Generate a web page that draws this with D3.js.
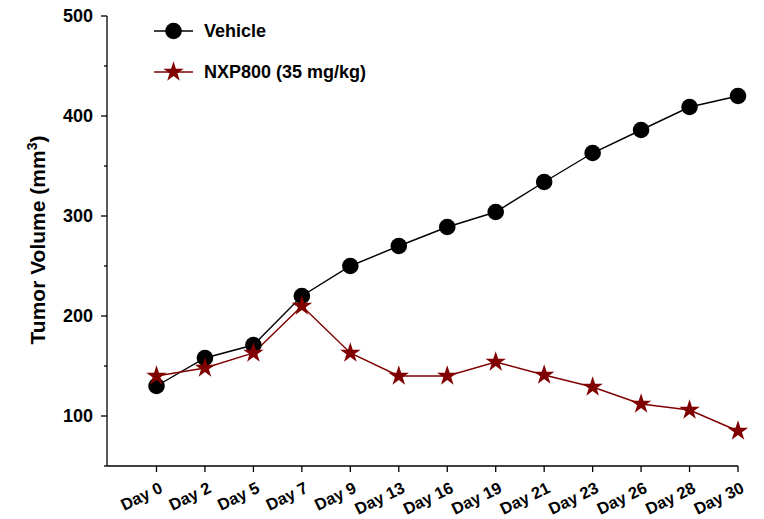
<!DOCTYPE html>
<html><head><meta charset="utf-8">
<script src="https://cdn.jsdelivr.net/npm/d3@7"></script>
<style>
body{margin:0;background:#fff;}
text{font-family:Arial,"Liberation Sans",sans-serif;font-weight:bold;fill:#000;}
</style></head>
<body><svg id="c" width="764" height="519"></svg>
<script>
const categories = ["Day 0","Day 2","Day 5","Day 7","Day 9","Day 13","Day 16","Day 19","Day 21","Day 23","Day 26","Day 28","Day 30"];
const vehicle = [130,158,171,220,250,270,289,304,334,363,386,409,420];
const nxp800 = [140,148,163,210,163,140,140,154,141,129,112,106,85];
const seriesNames = ["Vehicle","NXP800 (35 mg/kg)"];
const yTicks = [100,200,300,400,500];
const yMinor = [150,250,350,450];

const svg = d3.select("#c");
const axisX0 = 107, axisY0 = 466;
const x = d3.scalePoint().domain(categories).range([156.5, 738]);
const y = d3.scaleLinear().domain([50,500]).range([466,16]);

// Y axis
const gy = svg.append("g").attr("transform",`translate(${axisX0},0)`);
gy.append("line").attr("x1",0).attr("x2",0).attr("y1",y(500)).attr("y2",y(50)).attr("stroke","#000").attr("stroke-width",1.3);
gy.selectAll(".maj").data(yTicks).join("line").attr("x1",-6).attr("x2",0).attr("y1",d=>y(d)).attr("y2",d=>y(d)).attr("stroke","#000").attr("stroke-width",1.3);
gy.selectAll(".min").data(yMinor.concat([50])).join("line").attr("x1",-3).attr("x2",0).attr("y1",d=>y(d)).attr("y2",d=>y(d)).attr("stroke","#000").attr("stroke-width",1.3);
gy.selectAll(".lab").data(yTicks).join("text").attr("x",-14).attr("y",d=>y(d)).attr("dy","0.36em").attr("text-anchor","end").style("font-size","18px").text(d=>d);

// X axis
const gx = svg.append("g").attr("transform",`translate(0,${axisY0})`);
gx.append("line").attr("x1",axisX0).attr("x2",x("Day 30")).attr("y1",0).attr("y2",0).attr("stroke","#000").attr("stroke-width",1.3);
gx.selectAll(".t").data(categories).join("line").attr("x1",d=>x(d)).attr("x2",d=>x(d)).attr("y1",0).attr("y2",6).attr("stroke","#000").attr("stroke-width",1.3);
gx.selectAll(".lab").data(categories).join("text")
  .attr("transform",d=>`translate(${x(d)+2},${15}) rotate(-26)`)
  .attr("text-anchor","end").attr("dy","0.72em").style("font-size","16.5px").text(d=>d);

// Y title
svg.append("text").attr("transform","translate(45,240) rotate(-90)").attr("text-anchor","middle").style("font-size","21px")
  .html('Tumor Volume (mm<tspan dy="-8" style="font-size:14px">3</tspan><tspan dy="8">)</tspan>');

const line = d3.line().x((d,i)=>x(categories[i])).y(d=>y(d));
const star = d3.symbol().type(d3.symbolStar).size(130);

// Series
svg.append("path").datum(vehicle).attr("d",line).attr("fill","none").attr("stroke","#000").attr("stroke-width",1.4);
svg.append("path").datum(nxp800).attr("d",line).attr("fill","none").attr("stroke","#800000").attr("stroke-width",1.4);
svg.selectAll(".v").data(vehicle).join("circle").attr("cx",(d,i)=>x(categories[i])).attr("cy",d=>y(d)).attr("r",8.3).attr("fill","#000");
svg.selectAll(".s").data(nxp800).join("path").attr("d",star).attr("transform",(d,i)=>`translate(${x(categories[i])},${y(d)})`).attr("fill","#800000");

// Legend
const lg = svg.append("g");
lg.append("line").attr("x1",154).attr("x2",193).attr("y1",31).attr("y2",31).attr("stroke","#000").attr("stroke-width",1.4);
lg.append("circle").attr("cx",173.5).attr("cy",31).attr("r",8.3).attr("fill","#000");
lg.append("text").attr("x",204).attr("y",31).attr("dy","0.36em").style("font-size","18px").text(seriesNames[0]);
lg.append("line").attr("x1",154).attr("x2",193).attr("y1",72).attr("y2",72).attr("stroke","#800000").attr("stroke-width",1.4);
lg.append("path").attr("d",star).attr("transform","translate(173.5,72)").attr("fill","#800000");
lg.append("text").attr("x",204).attr("y",72).attr("dy","0.36em").style("font-size","18px").text(seriesNames[1]);
</script></body></html>
